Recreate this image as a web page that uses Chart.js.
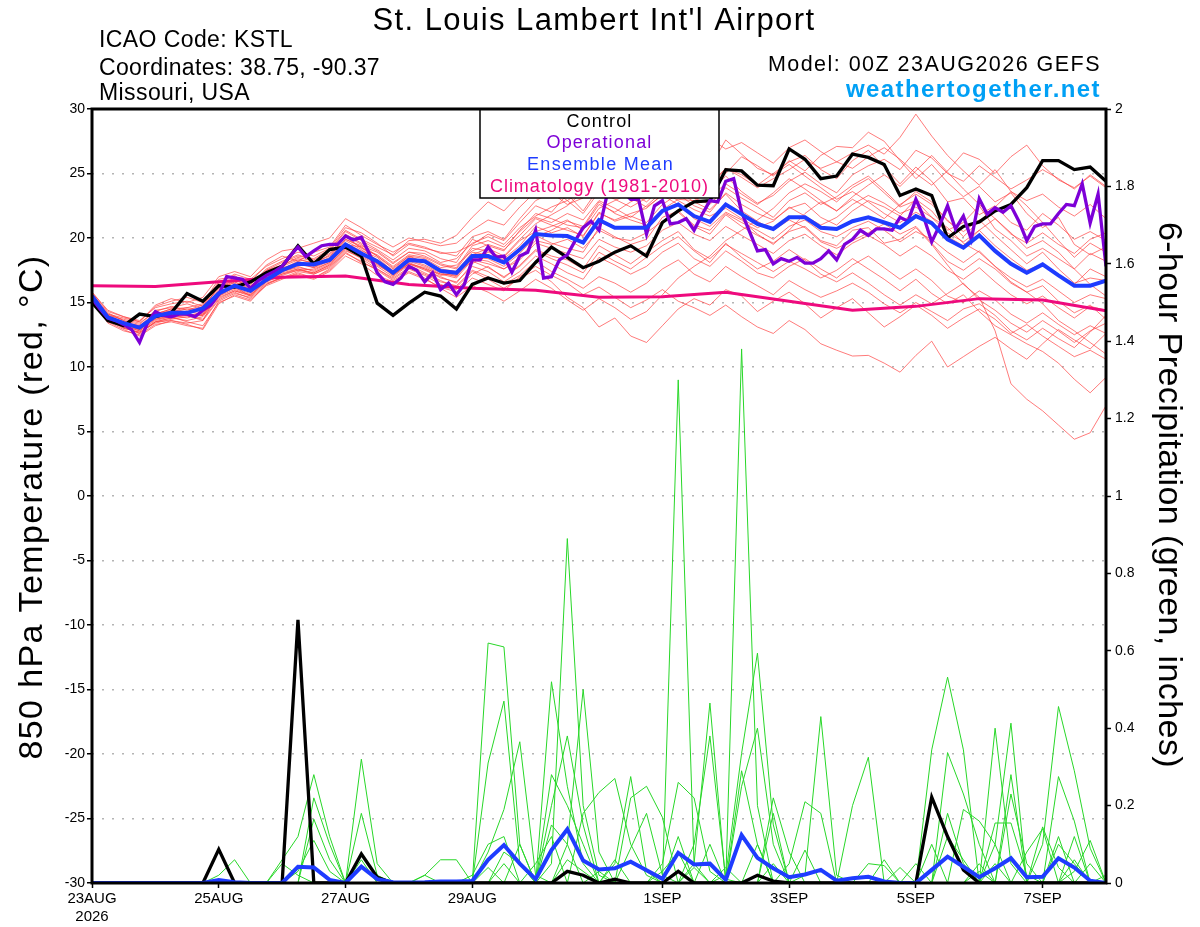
<!DOCTYPE html>
<html>
<head>
<meta charset="utf-8">
<script src="https://cdn.jsdelivr.net/npm/chart.js@4.4.1/dist/chart.umd.min.js"></script>
<style>
  html, body { margin: 0; padding: 0; background: #fff; }
  canvas { display: block; }
</style>
</head>
<body>
<canvas id="grafico" width="1200" height="927"></canvas>
<script>
// passo de tempo de cada serie (horas)
const passoEnsemble = 6;
const passoOperacional = 3;
const passoClima = 24;

const tickHoras = [0, 48, 96, 144, 216, 264, 312, 360];
const tickRotulos = [["23AUG", "2026"], "25AUG", "27AUG", "29AUG", "1SEP", "3SEP", "5SEP", "7SEP"];

// 850 hPa temperature (C), 6-hourly
const controleTemp = [15.0,13.6,13.2,14.1, 13.9,14.2,15.7,15.1, 16.3,16.2,16.6,17.3, 17.8,19.4,18.0,19.1, 19.3,18.6,14.95,14.0, 14.95,15.8,15.5,14.5, 16.4,16.9,16.5,16.7, 18.1,19.3,18.5,17.7, 18.2,18.9,19.4,18.6, 21.2,22.1,22.8,22.9, 25.3,25.2,24.1,24.05, 26.9,26.1,24.6,24.8, 26.5,26.25,25.7,23.3, 23.8,23.3,20.0,20.9, 21.25,22.1,22.6,23.9, 26.0,26.0,25.3,25.5, 24.4];
const mediaTemp = [15.5,13.85,13.4,13.05, 13.95,14.2,14.2,14.55, 15.7,16.3,15.9,16.75, 17.5,18.0,17.95,18.3, 19.5,18.8,18.2,17.3, 18.3,18.2,17.45,17.3, 18.6,18.6,18.1,19.1, 20.3,20.2,20.15,19.65, 21.4,20.8,20.8,20.8, 22.1,22.6,21.7,21.25, 22.6,21.85,21.1,20.7, 21.6,21.6,20.8,20.7, 21.3,21.6,21.2,20.8, 21.7,21.15,19.9,19.25, 20.2,19.0,18.0,17.3, 17.95,17.1,16.3,16.3, 16.7];
// operacional, 3-hourly
const operacionalTemp = [15.3,14.5,13.8,13.6,13.3,12.9,11.9,13.4,14.3,14.0,13.9,14.1,
  14.1,13.9,14.4,14.8,15.6,17.0,16.9,16.8,16.1,16.7,17.1,17.4,
  17.8,18.6,19.3,18.55,19.0,19.4,19.5,19.5,20.15,19.85,20.05,18.8,
  17.3,16.6,16.4,16.9,17.8,17.5,16.6,17.3,16.0,16.5,15.6,16.4,
  18.3,18.3,19.3,18.5,18.6,17.35,18.6,18.9,20.6,16.9,17.0,18.3,
  18.7,19.8,20.8,21.3,20.6,23.3,24.2,23.6,23.0,23.0,20.3,22.5,
  22.9,21.1,21.2,21.5,20.6,21.8,22.9,22.8,24.4,24.6,22.0,20.5,
  19.0,19.1,18.0,18.4,18.2,18.5,18.05,18.05,18.4,19.0,18.3,19.5,
  19.9,20.6,20.2,20.7,20.7,20.6,21.6,21.3,23.0,21.6,19.7,21.0,
  22.5,20.7,21.7,19.9,23.05,21.85,22.35,22.0,22.5,21.3,19.8,20.9,
  21.1,21.1,21.9,22.6,22.5,24.2,21.15,23.4,17.8];
// climatologia, diaria
const climaTemp = [16.3,16.25,16.6,16.95,17.05,16.4,16.1,15.95,15.4,15.45,15.8,15.1,14.4,14.7,15.3,15.2,14.35];

// membros do ensemble (temperatura)
const membrosTemp = [
  [15.7,14.2,13.6,13.3, 14.4,14.6,14.9,14.5, 16.3,16.9,16.4,17.6, 18.2,18.7,18.3,19.0, 20.5,19.8,19.1,18.3, 19.2,19.0,18.4,18.1, 19.9,19.4,19.0,20.6, 21.9,21.5,21.0,20.8, 22.6,22.0,22.8,23.4, 24.5,25.6,24.3,23.9, 25.4,24.9,24.1,25.0, 25.9,26.4,25.3,24.6, 26.0,26.8,25.5,24.2, 25.5,24.4,22.8,23.1, 21.8,22.5,21.2,20.6, 21.9,21.0,19.9,20.5, 19.8],
  [15.3,13.7,13.1,12.6, 13.5,13.8,13.6,13.9, 15.4,15.9,15.6,16.8, 17.2,17.5,17.6,18.1, 19.5,19.3,18.2,17.1, 18.0,17.5,17.0,16.5, 18.0,18.9,18.5,19.8, 20.5,20.9,21.4,20.6, 22.3,22.9,23.5,22.8, 23.9,24.6,23.8,24.2, 25.4,24.7,23.9,24.6, 25.3,26.1,25.4,25.9, 26.6,27.2,26.5,27.8, 29.6,27.9,26.4,25.2, 24.1,25.3,23.6,22.9, 23.4,22.4,21.7,22.6, 21.5],
  [15.8,14.3,13.9,13.5, 14.7,15.1,15.4,15.0, 16.8,17.0,16.6,17.9, 18.6,18.2,18.9,19.3, 21.0,20.2,19.5,18.9, 19.6,19.3,18.8,18.9, 19.5,20.3,19.8,21.2, 22.5,22.0,23.4,22.1, 23.9,24.5,23.7,25.0, 26.2,25.4,24.6,24.1, 25.0,26.3,25.6,24.8, 26.0,25.2,26.4,27.1, 27.0,28.2,27.5,26.0, 24.6,25.7,24.3,23.2, 24.0,22.8,23.5,21.9, 20.8,21.6,19.5,18.7, 19.3],
  [15.4,13.8,13.3,13.1, 13.7,14.0,13.8,14.1, 15.6,16.1,15.7,16.9, 17.4,17.8,17.4,18.0, 19.4,18.8,18.0,17.2, 18.1,17.6,17.2,16.9, 18.3,18.0,17.6,18.5, 19.8,19.5,19.9,19.2, 20.6,20.0,19.8,20.4, 21.3,22.0,20.9,20.3, 21.8,20.9,20.2,19.6, 20.5,20.9,19.8,19.4, 20.6,20.8,19.6,19.9, 20.8,19.5,17.9,16.4, 15.4,12.8,8.7,7.5, 6.6,5.5,4.4,4.9, 7.0],
  [15.2,13.5,12.9,12.4, 13.2,13.6,13.3,12.9, 14.9,15.6,15.2,16.3, 16.8,17.3,16.9,17.6, 18.9,18.1,17.6,16.8, 17.6,17.1,16.4,16.0, 17.2,17.8,16.9,17.9, 19.1,18.6,18.3,17.6, 19.4,18.7,18.0,18.9, 19.8,20.5,19.1,18.4, 19.5,18.8,18.1,17.4, 18.2,17.6,16.9,17.5, 18.4,17.6,16.8,15.9, 16.8,15.7,14.9,15.6, 14.3,13.2,12.5,11.8, 11.2,10.3,9.05,8.0, 9.2],
  [15.3,13.6,13.2,12.8, 13.6,13.9,13.5,13.2, 15.0,15.5,15.1,16.4, 17.0,17.1,16.8,17.4, 18.6,18.0,17.1,16.6, 17.3,16.8,16.2,15.8, 16.9,16.4,15.9,17.0, 17.8,17.1,16.5,15.6, 16.2,15.4,14.6,15.2, 16.0,15.1,14.6,14.0, 14.8,13.9,13.1,12.6, 13.6,12.9,11.8,11.3, 10.85,10.9,10.3,9.6, 10.9,12.0,10.0,10.8, 11.6,12.3,11.4,10.6, 11.8,12.9,12.1,11.4, 12.6],
  [15.6,13.9,13.5,13.2, 14.0,14.4,14.0,13.6, 15.8,16.2,15.5,16.8, 17.3,17.6,17.2,17.7, 19.0,18.5,17.8,17.0, 17.9,17.3,16.7,16.2, 17.4,16.8,16.1,16.9, 17.5,16.6,15.4,14.6, 13.1,13.8,12.4,11.9, 13.2,14.5,15.3,14.8, 16.0,15.5,14.3,15.1, 15.8,14.9,13.8,14.6, 15.3,14.2,13.1,13.9, 14.8,14.0,13.0,13.8, 14.5,13.7,12.6,13.3, 12.4,11.6,10.8,11.3, 10.6],
  [15.5,14.1,13.6,13.0, 14.1,14.5,14.6,14.9, 16.6,17.1,16.2,17.5, 17.9,18.4,18.0,18.7, 20.1,19.2,18.7,17.8, 18.7,18.5,17.9,17.6, 19.2,19.0,18.4,19.4, 20.9,20.4,20.8,20.1, 22.0,21.3,21.7,21.2, 22.6,23.4,22.5,22.0, 23.5,22.6,21.9,21.4, 22.3,22.7,21.6,21.0, 22.1,22.9,22.4,21.7, 23.0,22.1,20.6,21.2, 22.5,20.7,19.8,18.6, 19.2,18.4,17.6,18.8, 18.2],
  [15.4,13.7,13.4,13.2, 14.2,14.3,14.6,14.4, 16.0,16.7,16.3,17.3, 17.8,18.3,18.1,18.6, 19.9,19.4,18.9,18.0, 18.9,18.8,18.1,18.4, 19.6,20.1,19.5,20.8, 21.7,22.4,22.9,21.9, 23.6,23.0,22.4,23.1, 24.0,23.6,22.8,22.2, 23.4,22.1,21.3,20.6, 21.4,20.8,19.7,19.2, 19.8,20.4,21.1,20.3, 20.9,19.6,18.2,17.5, 18.4,17.6,16.5,15.8, 16.3,15.1,14.2,14.8, 13.7],
  [15.6,13.9,13.2,12.9, 13.8,14.0,14.3,14.6, 16.2,16.5,15.8,17.0, 17.5,18.1,17.9,18.5, 20.2,19.5,18.6,17.6, 18.6,18.4,17.7,17.9, 19.0,19.5,19.1,20.2, 21.5,21.0,20.6,20.2, 21.9,21.4,21.9,22.3, 23.4,24.2,23.1,22.6, 23.9,23.1,22.4,21.6, 22.9,23.5,22.6,23.2, 24.1,24.8,23.7,22.5, 23.6,22.8,21.3,20.5, 21.4,20.2,19.1,18.0, 18.9,17.6,16.5,16.9, 16.7],
  [15.7,14.0,13.7,13.4, 14.3,14.7,14.4,14.8, 16.4,16.6,16.0,17.2, 17.7,18.0,17.7,18.2, 19.6,19.0,18.5,17.4, 18.3,17.9,17.3,17.0, 18.5,18.4,17.8,18.8, 20.1,20.6,21.3,20.9, 22.8,21.9,21.4,21.0, 22.2,23.0,22.9,23.6, 24.8,23.6,22.7,23.3, 24.4,25.1,24.2,23.5, 24.9,25.6,26.1,25.3, 26.8,26.2,25.0,24.4, 25.6,24.7,23.8,24.5, 25.3,24.6,23.8,24.9, 24.0],
  [15.3,13.6,13.0,12.7, 13.4,13.7,13.9,14.0, 15.5,16.0,15.6,16.6, 17.1,17.5,17.3,17.9, 19.2,18.6,17.9,17.2, 18.0,17.6,16.9,16.6, 17.8,17.4,16.6,17.4, 18.6,18.0,17.3,16.8, 18.5,17.9,17.2,17.8, 18.9,19.6,18.4,17.8, 19.0,18.2,17.3,16.9, 17.8,18.4,17.6,16.9, 17.9,18.6,17.7,16.8, 17.6,16.7,15.5,15.0, 15.9,15.2,14.1,13.4, 14.2,13.3,12.5,13.2, 12.6],
  [15.8,14.4,13.9,13.6, 14.6,14.9,15.1,14.7, 16.5,17.2,16.8,17.8, 18.4,18.9,18.6,19.2, 20.8,20.4,19.6,18.6, 19.5,19.2,18.9,18.6, 20.1,20.5,19.9,21.5, 22.9,23.5,22.6,23.1, 24.5,23.7,24.6,25.3, 26.4,27.1,26.2,25.5, 27.6,26.5,25.4,24.9, 25.7,24.8,23.9,23.0, 23.6,22.8,21.9,21.2, 22.0,21.3,20.1,19.4, 20.6,21.5,20.3,19.6, 20.4,19.5,18.8,19.9, 20.4],
  [15.4,13.8,13.5,13.0, 14.0,14.1,14.0,14.2, 15.7,16.3,15.9,17.1, 17.6,18.2,17.8,18.3, 19.8,19.1,18.3,17.5, 18.5,18.2,17.6,17.4, 18.9,18.7,18.3,19.0, 20.2,19.6,19.2,18.9, 20.8,20.1,19.5,19.9, 21.6,22.1,21.0,20.6, 21.9,21.2,20.6,19.9, 20.9,21.4,20.5,20.1, 20.8,21.3,20.6,19.7, 20.5,19.9,18.9,18.1, 19.0,17.8,16.9,16.2, 16.8,15.9,15.0,15.6, 15.3],
  [15.6,14.1,13.8,13.5, 14.8,15.3,15.0,15.4, 17.0,17.4,17.0,18.3, 19.0,19.2,19.6,20.0, 21.5,20.8,20.0,19.3, 20.0,19.7,19.4,19.6, 20.6,21.4,21.0,22.4, 23.6,24.4,23.8,24.9, 26.0,25.4,24.7,25.6, 26.7,26.0,27.2,27.7, 26.9,27.4,26.6,25.8, 27.0,27.6,26.7,25.9, 25.4,26.3,27.0,26.1, 25.0,24.1,25.2,26.6, 26.1,25.0,26.3,27.2, 25.6,24.5,23.9,24.8, 23.9],
  [15.2,13.4,12.8,12.5, 13.3,13.5,13.2,13.0, 15.1,15.7,15.4,16.5, 16.9,17.4,17.2,17.8, 19.1,18.4,17.6,16.9, 17.7,17.2,16.6,16.3, 17.5,17.0,16.4,17.1, 18.2,17.4,16.8,16.1, 17.0,16.5,15.8,16.5, 17.6,18.3,17.2,16.6, 17.8,17.0,16.3,15.6, 16.7,16.0,15.4,15.9, 16.5,15.8,14.9,14.2, 15.0,14.3,13.6,14.5, 14.9,14.0,12.8,12.1, 13.0,12.2,11.5,12.7, 14.0],
  [15.5,14.0,13.3,12.9, 13.9,14.2,14.5,14.3, 15.9,16.6,16.1,17.4, 17.9,18.5,18.2,18.8, 20.3,19.6,19.0,18.1, 18.9,18.6,18.0,17.7, 19.4,19.8,19.3,20.5, 21.6,21.2,21.9,21.4, 22.9,22.3,21.6,22.5, 23.6,22.9,22.2,21.7, 22.3,21.5,20.8,21.3, 22.4,21.7,21.0,21.6, 22.6,23.3,22.7,21.9, 22.4,21.6,20.4,19.7, 20.6,19.4,18.4,17.5, 18.0,17.2,16.4,17.6, 17.0],
  [15.3,13.7,13.2,12.8, 13.7,13.9,14.1,14.0, 15.5,16.2,15.8,16.9, 17.4,17.7,17.5,18.1, 19.5,18.9,18.1,17.3, 18.2,17.8,17.2,17.1, 18.4,18.2,17.6,18.3, 19.6,19.2,18.8,18.4, 19.9,19.3,18.9,19.4, 20.6,21.2,20.3,19.8, 20.9,20.2,19.5,18.8, 19.8,20.3,19.4,18.7, 19.6,20.2,19.5,18.6, 19.4,18.6,17.5,16.8, 17.7,16.6,15.6,14.9, 15.5,14.6,13.8,14.7, 14.4],
  [15.6,14.0,13.5,13.1, 14.1,14.5,14.2,14.7, 16.1,16.8,16.2,17.5, 18.1,18.6,18.4,19.1, 20.6,19.9,19.3,18.7, 19.8,19.9,19.6,20.2, 21.6,22.8,22.1,23.4, 24.6,23.8,22.9,23.7, 24.9,24.2,23.1,22.4, 23.3,22.6,21.5,20.9, 22.0,21.4,20.3,19.5, 20.6,21.9,22.8,22.1, 23.2,24.1,24.9,24.0, 25.2,26.4,25.1,23.8, 22.6,21.5,20.4,19.2, 19.8,18.9,17.6,16.4, 15.5],
  [15.4,13.8,13.0,12.7, 13.5,13.6,13.4,13.6, 15.2,15.8,15.3,16.4, 16.9,17.2,16.9,17.5, 18.8,18.2,17.5,16.7, 17.4,16.9,16.1,15.4, 16.3,15.8,15.1,15.9, 16.8,16.1,15.2,14.4, 15.3,14.6,13.7,14.3, 15.6,16.9,17.8,18.6, 19.8,20.6,21.4,22.3, 23.5,24.2,23.6,22.8, 23.9,24.6,23.5,22.4, 22.9,21.6,20.8,19.6, 18.9,17.8,16.6,15.8, 14.9,13.6,12.8,11.9, 11.0],
  [15.5,13.9,13.4,12.9, 13.8,14.1,14.3,14.1, 15.8,16.4,16.0,17.2, 17.6,18.1,17.7,18.4, 19.9,19.3,18.6,17.7, 18.6,18.1,17.4,17.1, 18.7,19.2,18.6,19.9, 21.1,21.8,22.5,23.6, 25.1,24.3,23.6,24.4, 25.6,24.9,24.1,23.2, 24.2,23.4,22.6,23.5, 24.6,23.8,22.9,22.1, 23.0,22.3,21.5,22.6, 23.4,22.6,21.4,20.1, 21.3,22.4,23.6,22.5, 21.2,19.8,18.5,19.6, 18.9],
  [15.3,13.6,13.1,12.6, 13.5,13.8,14.0,13.7, 15.3,15.9,15.5,16.6, 17.2,17.6,17.3,17.9, 19.3,18.7,18.0,17.1, 18.0,17.7,17.1,17.3, 18.2,17.7,17.0,17.8, 19.0,18.4,17.9,17.3, 18.9,18.2,17.6,18.5, 19.4,20.1,19.0,18.1, 19.6,18.5,17.6,18.2, 19.1,18.3,17.2,16.6, 17.3,16.5,15.6,14.8, 15.6,14.9,15.7,16.5, 15.2,14.4,13.4,12.7, 13.6,12.8,11.9,12.8, 13.4]
];

// 6-hour precipitation (inches)
const controlePrecip = [0,0,0,0, 0,0,0,0, .087,0,0,0, 0,.68,0,0, 0,.075,.015,0, 0,0,0,0, 0,0,0,0, 0,0,.03,.02, 0,.01,0,0, 0,.03,0,0, 0,0,.02,.005, 0,0,0,0, 0,0,0,0, 0,.222,.12,.034, 0,0,0,0, 0,0,0,0, 0];
const mediaPrecip = [0,0,0,0, 0,0,0,0, .008,.002,0,0, 0,.042,.04,.008, 0,.042,.01,.002, .001,.002,.004,.004, .005,.06,.098,.05, .01,.085,.139,.058, .035,.038,.055,.033, .011,.078,.048,.05, .008,.124,.065,.038, .015,.022,.034,.006, .012,.016,.004,0, 0,.034,.068,.042, .015,.038,.064,.015, .016,.064,.04,.006, 0];
const membrosPrecip = [
  [0,0,0,0, 0,0,0,0, .02,.06,0,0, 0,0,0,0, 0,0,0,0, 0,0,0,0, 0,.62,.61,.1, 0,0,0,0, 0,0,0,0, 0,0,0,0, 0,0,0,0, .05,.21,.18,0, 0,0,0,0, 0,0,0,0, 0,0,0,0, 0,.275,.16,0, 0],
  [0,0,0,0, 0,0,0,0, 0,0,0,0, .06,.12,.28,.12, 0,0,0,0, 0,0,0,0, 0,.31,.47,.05, 0,0,0,0, 0,0,0,0, 0,0,0,0, 0,0,0,0, 0,0,0,0, 0,0,0,0, 0,0,0,0, 0,.4,.05,0, 0,0,0,0, 0],
  [0,0,0,0, 0,0,0,0, 0,0,0,0, 0,0,.22,.1, 0,0,0,0, 0,0,0,0, 0,.08,.19,.365, .02,0,0,0, 0,0,0,0, 0,0,0,0, 0,.29,.1,0, 0,0,0,0, 0,0,0,0, 0,0,.18,.05, 0,0,0,0, 0,0,0,0, 0],
  [0,0,0,0, 0,0,0,0, 0,0,0,0, 0,0,.165,.06, 0,0,0,0, 0,.02,.06,.06, 0,0,0,0, 0,.05,.89,.2, .02,0,0,0, 0,0,0,0, 0,0,0,0, 0,0,0,0, 0,0,0,0, 0,0,0,0, 0,.1,.413,0, 0,0,0,0, 0],
  [0,0,0,0, 0,0,0,0, 0,0,0,0, 0,.03,.11,.03, 0,0,0,0, 0,0,0,0, 0,0,0,0, 0,.52,.25,.05, 0,0,0,0, 0,0,0,0, 0,0,0,.22, .08,0,0,0, 0,0,0,0, 0,.344,.532,.344, 0,0,0,0, 0,0,0,0, 0],
  [0,0,0,0, 0,0,0,0, 0,0,0,0, 0,0,0,0, 0,.32,.05,0, 0,0,0,0, 0,0,0,0, 0,.2,.38,.15, 0,0,0,0, 0,1.3,.05,0, 0,0,0,0, 0,0,0,0, 0,0,0,0, 0,0,0,0, 0,0,0,0, .1,.456,.29,.09, 0],
  [0,0,0,0, 0,0,0,0, 0,0,0,0, 0,0,0,0, 0,.18,.02,0, 0,0,0,0, 0,0,0,0, 0,0,.1,.5, .08,0,0,0, 0,0,0,0, 0,0,0,0, 0,0,0,0, .2,.325,0,0, 0,0,0,0, 0,0,.28,0, 0,0,0,0, 0],
  [0,0,0,0, 0,0,0,0, 0,0,0,0, 0,0,0,0, 0,.06,0,0, 0,0,0,0, 0,0,0,0, 0,.28,.2,.1, 0,0,0,0, 0,0,0,0, 0,1.38,.2,0, 0,0,0,0, 0,0,0,0, 0,0,.337,.23, .1,0,0,0, 0,0,0,0, 0],
  [0,0,0,0, 0,0,0,0, 0,0,0,0, .05,.02,0,0, 0,0,0,0, 0,0,0,0, 0,0,0,0, 0,0,0,.18, .234,.27,.1,.02, 0,0,0,0, 0,0,0,0, 0,.02,.43,.02, 0,0,0,0, 0,0,0,0, 0,0,.23,.05, 0,0,0,0, 0],
  [0,0,0,0, 0,0,0,0, 0,0,0,0, 0,0,0,0, 0,0,0,0, 0,0,0,0, 0,0,0,0, 0,0,0,0, 0,.05,.275,.03, 0,0,.05,.465, 0,0,0,0, 0,0,0,0, 0,0,0,0, 0,0,0,.19, .16,.1,0,0, 0,0,.03,.11, 0],
  [0,0,0,0, 0,0,0,0, 0,0,0,0, 0,0,0,0, 0,0,0,0, 0,0,0,0, 0,0,0,0, 0,0,0,0, 0,0,.22,.25, .17,0,0,0, .02,.335,.594,.15, 0,0,0,0, 0,0,0,0, 0,0,0,0, 0,0,0,0, 0,.1,.05,0, 0],
  [0,0,0,0, 0,0,0,0, 0,0,0,0, 0,0,0,0, 0,0,0,0, 0,0,0,0, 0,0,0,0, 0,0,0,0, 0,0,.09,.18, .02,0,.1,.38, .01,0,0,0, 0,0,0,0, 0,.05,.045,0, 0,0,0,0, 0,.155,.155,.02, 0,0,0,0, 0],
  [0,0,0,0, 0,0,0,0, 0,0,0,0, 0,0,0,0, 0,0,0,0, 0,0,0,0, 0,0,0,0, 0,0,0,0, 0,0,0,0, .05,.26,.22,.03, 0,0,0,0, 0,.085,0,0, 0,0,0,0, .05,0,0,0, 0,0,0,0, .145,.04,0,0, 0],
  [0,0,0,0, 0,0,0,0, 0,0,0,0, 0,0,0,0, 0,0,0,0, 0,0,0,0, 0,0,.08,.05, 0,0,0,0, 0,0,0,0, 0,0,0,0, 0,.25,.4,.1, 0,0,0,0, 0,0,0,0, 0,0,.12,.06, 0,0,0,0, 0,0,0,0, .02],
  [0,0,0,0, 0,0,0,0, 0,0,0,0, 0,0,0,0, 0,0,0,0, 0,0,0,0, 0,0,0,0, .05,.12,0,0, 0,0,0,0, 0,0,0,0, 0,0,0,.18, 0,0,0,0, 0,0,0,0, 0,0,0,0, 0,0,0,.08, .14,0,0,0, 0],
  [0,0,0,0, 0,0,0,0, 0,0,0,0, 0,0,0,0, 0,0,0,0, 0,0,0,0, .02,.1,.12,0, 0,0,.06,.03, 0,0,0,0, 0,0,0,0, .04,0,0,0, 0,0,0,0, 0,0,0,0, 0,0,0,0, .05,0,0,0, 0,0,0,0, 0],
  [0,0,0,0, 0,0,0,0, 0,0,0,0, 0,0,0,0, 0,0,0,0, 0,0,0,0, 0,0,.05,0, 0,.15,.1,0, 0,0,0,0, .03,.08,0,0, 0,0,0,0, 0,0,0,0, 0,0,0,.04, 0,0,0,0, 0,0,0,0, 0,0,.06,0, 0],
  [0,0,0,0, 0,0,0,0, 0,0,0,0, 0,0,0,0, 0,0,0,0, 0,0,0,0, 0,0,0,0, 0,0,0,0, 0,0,0,0, 0,.12,0,0, 0,0,.1,0, 0,0,0,0, 0,0,.06,0, 0,0,0,0, .03,0,0,0, 0,.12,0,0, 0],
  [0,0,0,0, 0,0,0,0, 0,0,0,0, 0,0,0,0, 0,0,0,0, 0,0,0,0, 0,0,0,.1, 0,0,0,0, 0,.06,0,0, 0,0,.04,0, 0,0,0,.05, 0,0,0,0, 0,0,0,0, 0,.1,0,0, 0,0,0,0, 0,0,0,.05, 0],
  [0,0,0,0, 0,0,0,0, 0,0,0,0, 0,0,0,0, 0,0,0,0, 0,.02,0,0, 0,.04,0,0, 0,0,0,0, .03,0,0,0, 0,0,0,.1, 0,0,0,0, 0,0,0,0, 0,0,0,0, 0,0,0,0, 0,.05,0,0, 0,0,.12,0, 0]
];

const FONTE = "'Liberation Sans', Arial, Helvetica, sans-serif";
Chart.defaults.font.family = FONTE;
Chart.defaults.color = "#000";

function pontos(valores, passo) {
  return valores.map((v, i) => ({ x: i * passo, y: v }));
}

function linha(valores, passo, eixo, cor, largura, ordem) {
  return {
    data: pontos(valores, passo),
    yAxisID: eixo,
    borderColor: cor,
    borderWidth: largura,
    pointRadius: 0,
    tension: 0,
    fill: false,
    order: ordem,
  };
}

const conjuntos = [];
membrosTemp.forEach((m) => conjuntos.push(linha(m, passoEnsemble, "y", "rgba(255,60,60,0.68)", 1, 9)));
membrosPrecip.forEach((m) => conjuntos.push(linha(m, passoEnsemble, "y2", "rgb(40,215,40)", 1, 8)));
conjuntos.push(linha(controlePrecip, passoEnsemble, "y2", "#000", 3.3, 7));
conjuntos.push(linha(mediaPrecip, passoEnsemble, "y2", "rgb(30,60,255)", 4, 6));
conjuntos.push(linha(climaTemp, passoClima, "y", "rgb(238,10,125)", 3, 5));
conjuntos.push(linha(controleTemp, passoEnsemble, "y", "#000", 3.3, 4));
conjuntos.push(linha(operacionalTemp, passoOperacional, "y", "rgb(125,0,215)", 3.3, 3));
conjuntos.push(linha(mediaTemp, passoEnsemble, "y", "rgb(30,60,255)", 4, 2));

// texto com espacamento ajustado a uma largura
function escreve(ctx, texto, x, y, largura, alinhamento, fonte, cor) {
  ctx.font = fonte;
  ctx.fillStyle = cor;
  ctx.textAlign = "left";
  ctx.letterSpacing = "0px";
  const w = ctx.measureText(texto).width;
  ctx.letterSpacing = ((largura - w) / texto.length).toFixed(2) + "px";
  const w2 = ctx.measureText(texto).width;
  let x0 = x;
  if (alinhamento === "center") x0 = x - w2 / 2;
  if (alinhamento === "right") x0 = x - w2;
  ctx.fillText(texto, x0, y);
  ctx.letterSpacing = "0px";
}

const decoracao = {
  id: "decoracao",
  afterDatasetsDraw(chart) {
    const { ctx, chartArea: a } = chart;
    ctx.save();
    // caixa da legenda
    ctx.fillStyle = "#fff";
    ctx.fillRect(480, a.top, 239, 198 - a.top);
    ctx.strokeStyle = "#000";
    ctx.lineWidth = 1.5;
    ctx.strokeRect(480, a.top, 239, 198 - a.top);
    ctx.textBaseline = "alphabetic";
    escreve(ctx, "Control", 599.5, 127, 66, "center", "18px " + FONTE, "#000");
    escreve(ctx, "Operational", 599.5, 148, 106, "center", "18px " + FONTE, "rgb(125,0,215)");
    escreve(ctx, "Ensemble Mean", 600.5, 169.5, 147, "center", "18px " + FONTE, "rgb(30,60,255)");
    escreve(ctx, "Climatology (1981-2010)", 599.5, 191.5, 219, "center", "18px " + FONTE, "rgb(238,10,125)");
    // moldura
    ctx.lineWidth = 3;
    ctx.strokeRect(a.left, a.top, a.right - a.left, a.bottom - a.top);
    ctx.restore();
  },
  afterDraw(chart) {
    const { ctx } = chart;
    ctx.save();
    ctx.textBaseline = "alphabetic";
    escreve(ctx, "St. Louis Lambert Int'l Airport", 594, 30, 443, "center", "31px " + FONTE, "#000");
    escreve(ctx, "ICAO Code: KSTL", 99, 47, 194, "left", "23px " + FONTE, "#000");
    escreve(ctx, "Coordinates: 38.75, -90.37", 99, 74.5, 281, "left", "23px " + FONTE, "#000");
    escreve(ctx, "Missouri, USA", 99, 100, 151, "left", "23px " + FONTE, "#000");
    escreve(ctx, "Model: 00Z 23AUG2026 GEFS", 1101, 71, 333, "right", "21.5px " + FONTE, "#000");
    escreve(ctx, "weathertogether.net", 1101, 97, 255, "right", "bold 24px " + FONTE, "rgb(0,160,245)");

    // titulos dos eixos
    ctx.textBaseline = "middle";
    ctx.save();
    ctx.translate(33, 507);
    ctx.rotate(-Math.PI / 2);
    escreve(ctx, "850 hPa Temperature (red, \u00B0C)", 0, 0, 505, "center", "34px " + FONTE, "#000");
    ctx.restore();
    ctx.save();
    ctx.translate(1168, 495);
    ctx.rotate(Math.PI / 2);
    escreve(ctx, "6-hour Precipitation (green, inches)", 0, 0, 546, "center", "34px " + FONTE, "#000");
    ctx.restore();
    ctx.restore();
  },
};

new Chart(document.getElementById("grafico"), {
  type: "line",
  data: { datasets: conjuntos },
  plugins: [decoracao],
  options: {
    responsive: false,
    animation: false,
    layout: { padding: { top: 109, left: 0, right: 0, bottom: 0 } },
    plugins: { legend: { display: false }, tooltip: { enabled: false }, title: { display: false } },
    scales: {
      x: {
        type: "linear",
        min: 0,
        max: 384,
        afterBuildTicks: (s) => { s.ticks = tickHoras.map((v) => ({ value: v })); },
        afterFit: (s) => { s.height = 44; },
        grid: { drawOnChartArea: false, drawTicks: true, tickLength: 5, tickColor: "#000", tickWidth: 1.5 },
        border: { display: false },
        ticks: {
          autoSkip: false,
          maxRotation: 0,
          padding: 2,
          font: { size: 15 },
          callback: (v) => { const i = tickHoras.indexOf(v); return i >= 0 ? tickRotulos[i] : ""; },
        },
      },
      y: {
        position: "left",
        min: -30,
        max: 30,
        afterFit: (s) => { s.width = 92; },
        ticks: { stepSize: 5, padding: 2, font: { size: 14 } },
        grid: { color: "#b4b4b4", lineWidth: 1.5, tickColor: "#000", tickLength: 5, tickWidth: 1.5 },
        border: { display: false, dash: [2, 8] },
      },
      y2: {
        position: "right",
        min: 0,
        max: 2,
        afterFit: (s) => { s.width = 94; },
        ticks: { stepSize: 0.2, padding: 4, font: { size: 14 }, callback: (v) => String(Math.round(v * 10) / 10) },
        grid: { drawOnChartArea: false, tickColor: "#000", tickLength: 5, tickWidth: 1.5 },
        border: { display: false },
      },
    },
  },
});
</script>
</body>
</html>
